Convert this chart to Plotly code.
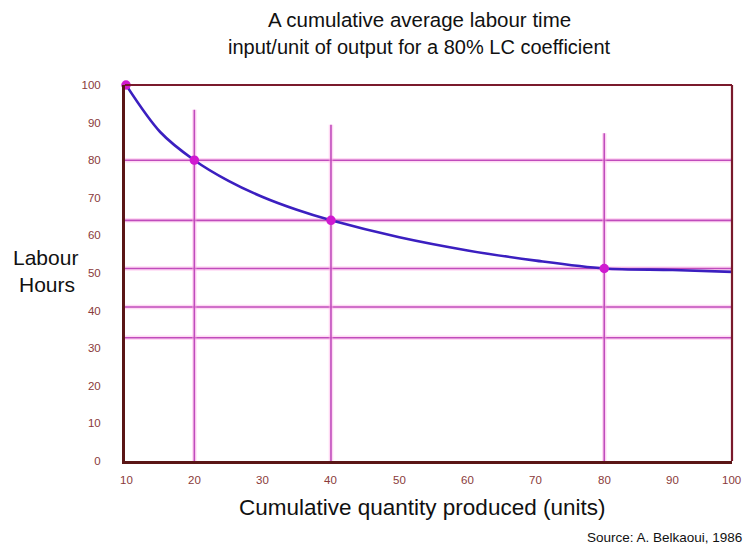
import plotly.graph_objects as go

# ---- data ----
CURVE_X = [10, 15, 20, 25, 30, 35, 40, 50, 60, 70, 80, 90, 98.7]
CURVE_Y = [100, 87.5, 80, 74.5, 70.2, 66.8, 64, 59.5, 56, 53.3, 51.2, 50.8, 50.3]
POINT_X = [10, 20, 40, 80]
POINT_Y = [100, 80, 64, 51.2]
HLINE_Y = [80, 64, 51.2, 40.96, 32.77]
VLINE_X = [20, 40, 80]
VLINE_TOP = [93.4, 89.4, 87.2]
XTICKS = [10, 20, 30, 40, 50, 60, 70, 80, 90, 100]
YTICKS = [0, 10, 20, 30, 40, 50, 60, 70, 80, 90, 100]
X_RANGE = [9.85, 98.7]
Y_RANGE = [0, 100]

TITLE_1 = "A cumulative average labour time"
TITLE_2 = "input/unit of output for a 80% LC coefficient"
Y_TITLE_1 = "Labour"
Y_TITLE_2 = "Hours"
X_TITLE = "Cumulative quantity produced (units)"
SOURCE = "Source: A. Belkaoui, 1986"

FONT = "Liberation Sans, Arial, sans-serif"
GRID_HALO = "rgba(255,170,230,0.45)"
GRID_CORE = "#c04cbc"
CURVE_COL = "#3b1fc0"
POINT_COL = "#d01ad0"
TICK_COL = "#8a3a3a"
BORDER_DARK = "#5a1616"
BORDER_TOP = "#7a1a2c"

# page offset: the figure sits 8px inside the page body
OFF = 8
W, H = 752 - OFF, 547 - OFF
L, R, T, B = 125 - OFF, 20, 85 - OFF, 86
PW, PH = W - L - R, H - T - B

fig = go.Figure()

# horizontal guide lines
for h in HLINE_Y:
    for col, w in ((GRID_HALO, 4.5), (GRID_CORE, 1.6)):
        fig.add_trace(go.Scatter(x=X_RANGE, y=[h, h], mode="lines",
                                 line=dict(color=col, width=w),
                                 hoverinfo="skip", showlegend=False))
# vertical guide lines
for vx, top in zip(VLINE_X, VLINE_TOP):
    for col, w in ((GRID_HALO, 4.5), (GRID_CORE, 1.6)):
        fig.add_trace(go.Scatter(x=[vx, vx], y=[Y_RANGE[0], top], mode="lines",
                                 line=dict(color=col, width=w),
                                 hoverinfo="skip", showlegend=False))

# learning curve
fig.add_trace(go.Scatter(x=CURVE_X, y=CURVE_Y, mode="lines",
                         line=dict(color=CURVE_COL, width=2.6, shape="spline", smoothing=0.9),
                         hoverinfo="skip", showlegend=False, cliponaxis=False))
# points
fig.add_trace(go.Scatter(x=POINT_X, y=POINT_Y, mode="markers",
                         marker=dict(color=POINT_COL, size=9.5),
                         hoverinfo="skip", showlegend=False, cliponaxis=False))

# top and right border
fig.add_shape(type="line", xref="paper", yref="paper", x0=0, x1=1, y0=1, y1=1,
              line=dict(color=BORDER_TOP, width=2.2))
fig.add_shape(type="line", xref="paper", yref="paper", x0=1, x1=1, y0=0, y1=1,
              line=dict(color=BORDER_TOP, width=2.2))

# x tick labels: placed through the x scale (100 lies just beyond the drawn frame)
for t in XTICKS:
    last = t == XTICKS[-1]
    fig.add_annotation(x=(t - X_RANGE[0]) / (X_RANGE[1] - X_RANGE[0]), y=0,
                       xref="paper", yref="paper", text=str(t),
                       showarrow=False, xanchor="right" if last else "center",
                       xshift=2 if last else 0, yanchor="top", yshift=-11,
                       font=dict(family=FONT, size=11.5, color=TICK_COL))


def note(text, x, y, size, anchor="center", color="#111111"):
    """Place text at reference-page pixel (x, y)."""
    fx, fy = x - OFF, y - OFF
    fig.add_annotation(x=(fx - L) / PW, y=(H - B - fy) / PH, xref="paper", yref="paper",
                       text=text, showarrow=False, xanchor=anchor, yanchor="middle",
                       font=dict(family=FONT, size=size, color=color))


note(TITLE_1, 419, 19, 20.5)
note(TITLE_2, 419, 47, 20)
note(Y_TITLE_1, 45, 257, 21)
note(Y_TITLE_2, 47, 284, 21)
note(X_TITLE, 422, 507, 22.5)
note(SOURCE, 744, 537, 13.5, anchor="right")

fig.update_layout(
    width=W, height=H,
    margin=dict(l=L, r=R, t=T, b=B, pad=0),
    paper_bgcolor="white", plot_bgcolor="white",
    font=dict(family=FONT),
    xaxis=dict(range=X_RANGE, showgrid=False, zeroline=False, showticklabels=False,
               showline=True, linecolor=BORDER_DARK, linewidth=3, ticks=""),
    yaxis=dict(range=Y_RANGE, tickvals=YTICKS, showgrid=False, zeroline=False,
               showline=True, linecolor=BORDER_DARK, linewidth=3, ticks="",
               ticklabelstandoff=19,
               tickfont=dict(family=FONT, size=11.5, color=TICK_COL)),
)

fig.write_html("out.html")
